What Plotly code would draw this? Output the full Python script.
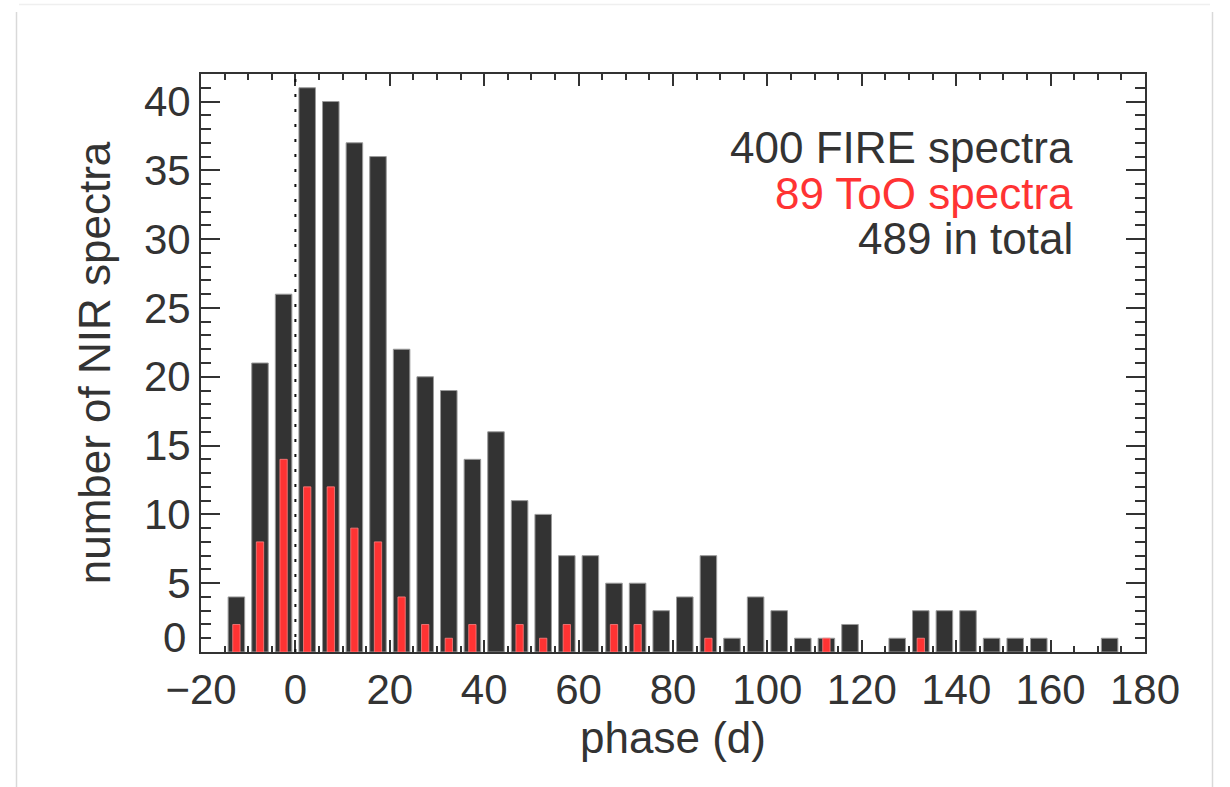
import plotly.graph_objects as go

# Phase bins (days), 5-day wide, labelled by bin centre
phase = [-12.5, -7.5, -2.5, 2.5, 7.5, 12.5, 17.5, 22.5, 27.5, 32.5,
         37.5, 42.5, 47.5, 52.5, 57.5, 62.5, 67.5, 72.5, 77.5, 82.5,
         87.5, 92.5, 97.5, 102.5, 107.5, 112.5, 117.5, 122.5, 127.5, 132.5,
         137.5, 142.5, 147.5, 152.5, 157.5, 162.5, 167.5, 172.5]

# All NIR spectra per bin
n_total = [4, 21, 26, 41, 40, 37, 36, 22, 20, 19,
           14, 16, 11, 10, 7, 7, 5, 5, 3, 4,
           7, 1, 4, 3, 1, 1, 2, 0, 1, 3,
           3, 3, 1, 1, 1, 0, 0, 1]

# ToO spectra per bin
n_too = [2, 8, 14, 12, 12, 9, 8, 4, 2, 1,
         2, 0, 2, 1, 2, 0, 2, 2, 0, 0,
         1, 0, 0, 0, 0, 1, 0, 0, 0, 1,
         0, 0, 0, 0, 0, 0, 0, 0]

x_ticks = [-20, 0, 20, 40, 60, 80, 100, 120, 140, 160, 180]
y_ticks = [0, 5, 10, 15, 20, 25, 30, 35, 40]

summary_lines = [("400 FIRE spectra", "#333333"),
                 ("89 ToO spectra", "#ff3333"),
                 ("489 in total", "#333333")]

FONT = "Liberation Sans, Arial, Helvetica, sans-serif"
INK = "#333333"


def nonzero(vals):
    # empty bins are left blank instead of drawing a flat sliver
    return [v if v > 0 else None for v in vals]


fig = go.Figure()
fig.add_trace(go.Bar(x=phase, y=nonzero(n_total), width=3.5,
                     marker=dict(color=INK, line=dict(color="#9a9a9a", width=1)),
                     hoverinfo="x+y", name="all"))
fig.add_trace(go.Bar(x=phase, y=nonzero(n_too), width=1.55,
                     marker=dict(color="#ff3333", line=dict(color="#ff8080", width=0.8)),
                     hoverinfo="x+y", name="ToO"))

# dotted marker at zero phase
fig.add_shape(type="line", xref="x", yref="y", x0=0, x1=0, y0=0, y1=42,
              line=dict(color="#111111", width=2, dash="3px,12px"), layer="above")

# plot-area geometry in pixels
L, T, B = 201, 74, 652
W, H = 944, 578


def px(v):
    return (v - L) / W


def py(v):
    return (B - v) / H


# card outline around the figure
fig.add_shape(type="line", xref="paper", yref="paper", x0=px(16.5), x1=px(16.5),
              y0=py(12), y1=py(800), line=dict(color="#d9d9d9", width=1.5))
fig.add_shape(type="line", xref="paper", yref="paper", x0=px(1212.5), x1=px(1212.5),
              y0=py(12), y1=py(800), line=dict(color="#d9d9d9", width=1.5))
fig.add_shape(type="line", xref="paper", yref="paper", x0=px(19), x1=px(1210),
              y0=py(4.5), y1=py(4.5), line=dict(color="#efefef", width=1.5))

for i, (txt, col) in enumerate(summary_lines):
    fig.add_annotation(text=txt, xref="paper", yref="paper", x=px(1075),
                       y=py(148 + 45 * i), xanchor="right", yanchor="middle",
                       showarrow=False, font=dict(family=FONT, size=44, color=col))

# the "0" label on the y axis sits raised above the corner
y_text = [str(v) if v != 0 else "" for v in y_ticks]
fig.add_annotation(text="0", xref="paper", yref="paper", x=px(188), y=py(637),
                   xanchor="right", yanchor="middle", showarrow=False,
                   font=dict(family=FONT, size=42, color=INK))

axis_common = dict(showline=True, linecolor=INK, linewidth=2, mirror="allticks",
                   ticks="inside", tickcolor=INK, tickwidth=2, showgrid=False,
                   zeroline=False, tickfont=dict(family=FONT, size=42, color=INK),
                   title_font=dict(family=FONT, size=44, color=INK))

fig.update_xaxes(range=[-20, 180], tickvals=x_ticks, ticklen=12,
                 minor=dict(dtick=5, tick0=0, ticks="inside", ticklen=6,
                            tickcolor=INK, tickwidth=2),
                 title_text="phase (d)", title_standoff=10, **axis_common)
fig.update_yaxes(range=[0, 42], tickvals=y_ticks, ticktext=y_text, ticklen=19,
                 minor=dict(dtick=1, tick0=0, ticks="inside", ticklen=10,
                            tickcolor=INK, tickwidth=2),
                 title_text="number of NIR spectra", title_standoff=19, **axis_common)

fig.update_layout(width=1230, height=787, barmode="overlay", showlegend=False,
                  plot_bgcolor="white", paper_bgcolor="white",
                  margin=dict(l=L, r=1230 - L - W, t=T, b=787 - B),
                  font=dict(family=FONT, color=INK))

fig.write_html("out.html")
